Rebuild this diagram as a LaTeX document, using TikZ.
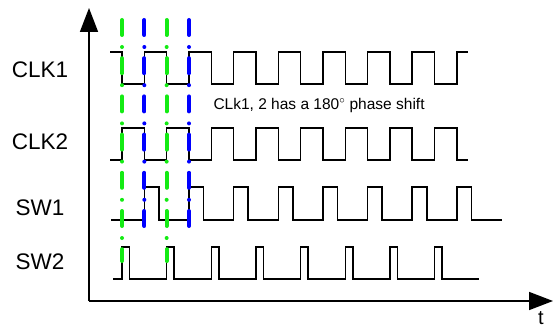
\documentclass[tikz,border=0pt]{standalone}
\usepackage{fontspec}
\setmainfont{Liberation Sans}
\usepackage{tikz}
\usetikzlibrary{arrows.meta}
\definecolor{mark-green}{RGB}{20, 235, 20}
\definecolor{mark-blue}{RGB}{0, 0, 255}

\begin{document}
\begin{tikzpicture}[
    x=1pt, y=-1pt,
    axis/.style={-{Triangle[length=24pt, width=18pt]}, line width=1.6pt},
    wave/.style={line width=1.6pt, line join=miter},
    mrk/.style={line width=4pt, line cap=round,
                dash pattern=on 15pt off 12pt on 0pt off 11.2pt},
    lbl/.style={font=\fontsize{22.5}{23}\selectfont, anchor=center},
    note/.style={font=\fontsize{15.5}{16}\selectfont, anchor=west}
  ]
    \useasboundingbox (0,0) rectangle (553,331);
    \def\hp{22.33}

    % axes
    \coordinate (o)  at (89,301);
    \coordinate (yt) at (89,8);
    \coordinate (xt) at (553,301);
    \draw[axis] (o) -- (yt);
    \draw[axis] (o) -- (xt);
    \node[lbl, font=\fontsize{20}{20}\selectfont] (t) at (541,318) {t};

    % signal names
    \node[lbl] (clk1) at (40,70)  {CLK1};
    \node[lbl] (clk2) at (40,142) {CLK2};
    \node[lbl] (sw1)  at (40,208) {SW1};
    \node[lbl] (sw2)  at (40,262) {SW2};

    % waveforms
    \draw[wave] (110,52) foreach \k in {0,...,7} {
        -- ({122+2*\k*\hp},52) -- ({122+2*\k*\hp},84)
        -- ({122+(2*\k+1)*\hp},84) -- ({122+(2*\k+1)*\hp},52) } -- (468,52);
    \draw[wave] (110,160) foreach \k in {0,...,7} {
        -- ({122+2*\k*\hp},160) -- ({122+2*\k*\hp},128)
        -- ({122+(2*\k+1)*\hp},128) -- ({122+(2*\k+1)*\hp},160) } -- (468,160);
    \draw[wave] (111,220) foreach \k in {0,...,7} {
        -- ({122+(2*\k+1)*\hp},220) -- ({122+(2*\k+1)*\hp},187)
        -- ({136.5+(2*\k+1)*\hp},187) -- ({136.5+(2*\k+1)*\hp},220) } -- (502,220);
    \draw[wave] (113,279) foreach \k in {0,...,7} {
        -- ({122+2*\k*\hp},279) -- ({122+2*\k*\hp},247)
        -- ({129.5+2*\k*\hp},247) -- ({129.5+2*\k*\hp},279) } -- (479,279);

    \node[note] (ph) at (210,105) {CLk1, 2 has a 180$^\circ$ phase shift};

    % switching marks
    \foreach \x in {122, 166.66} {
      \draw[mrk, mark-green] (\x,20) -- (\x,261);
    }
    \foreach \x in {144.33, 189} {
      \draw[mrk, mark-blue] (\x,20) -- (\x,226);
    }
  \end{tikzpicture}
\end{document}
